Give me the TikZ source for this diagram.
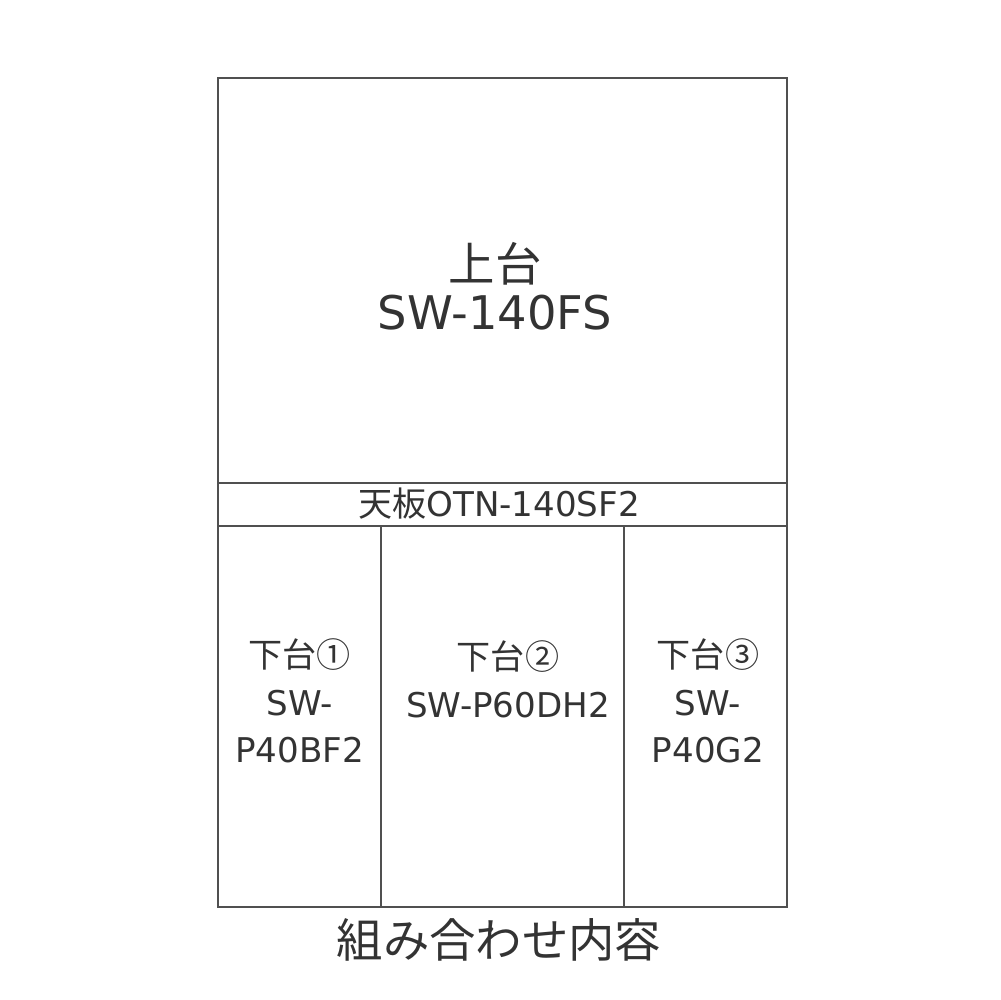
\documentclass[tikz,border=0pt]{standalone}
\usepackage{fontspec}
\setmainfont{DejaVu Sans}
\newfontfamily\jp{Noto Sans CJK JP}
\usetikzlibrary{positioning}
\definecolor{frame}{HTML}{505050}
\definecolor{ink}{HTML}{333333}
\tikzset{
  part/.style={draw=frame,line width=0.2mm},
  big/.style={text=ink,align=center,inner sep=0pt,font=\fontsize{13.2pt}{13.8pt}\selectfont},
  small/.style={text=ink,align=center,inner sep=0pt,font=\fontsize{9.7pt}{13.6pt}\selectfont}
}
\begin{document}
\begin{tikzpicture}[x=0.1mm,y=-0.1mm]
	  \useasboundingbox (0,0) rectangle (1000,1000);
	  % frame of the set
	  \draw[part] (218,78) rectangle (787,907);
	  \draw[part] (218,483) -- (787,483);
	  \draw[part] (218,526) -- (787,526);
	  \draw[part] (381,526) -- (381,907);
	  \draw[part] (624,526) -- (624,907);
	  % labels
	  \node (upper) [big] at (495,286) {{\jp 上台}\\SW-140FS};
	  \node (board) [small] at (499,504) {{\jp 天板}OTN-140SF2};
	  \node (lower1) [small] at (299.5,701) {{\jp 下台①}\\SW-\\P40BF2};
	  \node (lower2) [small] at (508,679) {{\jp 下台②}\\SW-P60DH2};
	  \node (lower3) [small] at (708,701) {{\jp 下台③}\\SW-\\P40G2};
	  \node (caption) [big] at (499,940) {\jp 組み合わせ内容};
	\end{tikzpicture}
\end{document}
